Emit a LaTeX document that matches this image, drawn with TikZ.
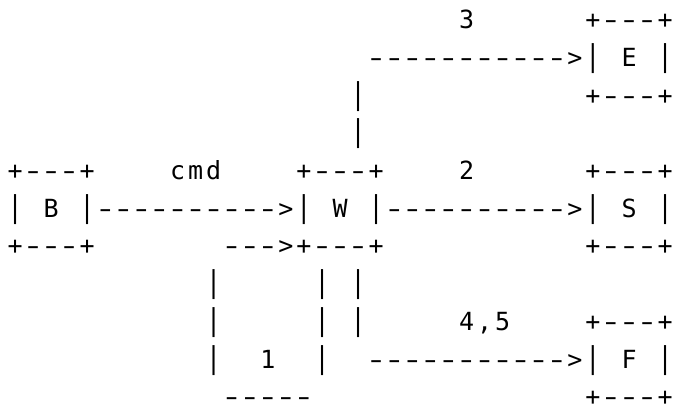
\documentclass[tikz,border=0pt]{standalone}
\usepackage{fontspec}
\usepackage{graphicx}
\newfontfamily\asciifont{DejaVu Sans Mono}
\newlength\cellw
\setlength\cellw{18.06pt}
% one character per fixed-width cell; hyphens a bit longer, bars a bit taller
\def\cellglyph#1{\ifx#1-\scalebox{1.5}[1]{-}\else\ifx#1|\scalebox{1}[1.2]{|}\else#1\fi\fi}
\def\cellsA#1{\ifx#1\relax\else\makebox[\cellw][c]{\cellglyph{#1}}\expandafter\cellsA\fi}
\newcommand\cells[1]{\cellsA#1\relax}
\begin{document}
\begin{tikzpicture}[x=1pt,y=1pt,
  ascii/.style={inner sep=0pt, outer sep=0pt, anchor=base west,
    font=\asciifont\fontsize{25}{30}\selectfont}]
\useasboundingbox (0,0) rectangle (675,406);
\newcommand\asc[4]{\node[ascii] (#1) at ({6+#2*18.06},{406-28.8-37.7*#3}) {\cells{#4}};}
% row 0
\asc{lbl3}{25}{0}{3}
\asc{Etop}{32}{0}{+---+}
% row 1
\asc{arrE}{20}{1}{----------->}
\asc{Emid}{32}{1}{|~E~|}
% row 2
\asc{vA}{19}{2}{|}
\asc{Ebot}{32}{2}{+---+}
% row 3
\asc{vB}{19}{3}{|}
% row 4
\asc{Btop}{0}{4}{+---+}
\asc{cmd}{9}{4}{cmd}
\asc{Wtop}{16}{4}{+---+}
\asc{lbl2}{25}{4}{2}
\asc{Stop}{32}{4}{+---+}
% row 5
\asc{Bmid}{0}{5}{|~B~|}
\asc{arrW}{5}{5}{---------->}
\asc{Wmid}{16}{5}{|~W~|}
\asc{arrS}{21}{5}{---------->}
\asc{Smid}{32}{5}{|~S~|}
% row 6
\asc{Bbot}{0}{6}{+---+}
\asc{arrL}{12}{6}{--->}
\asc{Wbot}{16}{6}{+---+}
\asc{Sbot}{32}{6}{+---+}
% row 7
\asc{lpA}{11}{7}{|}
\asc{lpB}{17}{7}{|}
\asc{vC}{19}{7}{|}
% row 8
\asc{lpC}{11}{8}{|}
\asc{lpD}{17}{8}{|}
\asc{vD}{19}{8}{|}
\asc{lbl45}{25}{8}{4,5}
\asc{Ftop}{32}{8}{+---+}
% row 9
\asc{lpE}{11}{9}{|}
\asc{lbl1}{14}{9}{1}
\asc{lpF}{17}{9}{|}
\asc{arrF}{20}{9}{----------->}
\asc{Fmid}{32}{9}{|~F~|}
% row 10
\asc{lpG}{12}{10}{-----}
\asc{Fbot}{32}{10}{+---+}
\end{tikzpicture}
\end{document}
